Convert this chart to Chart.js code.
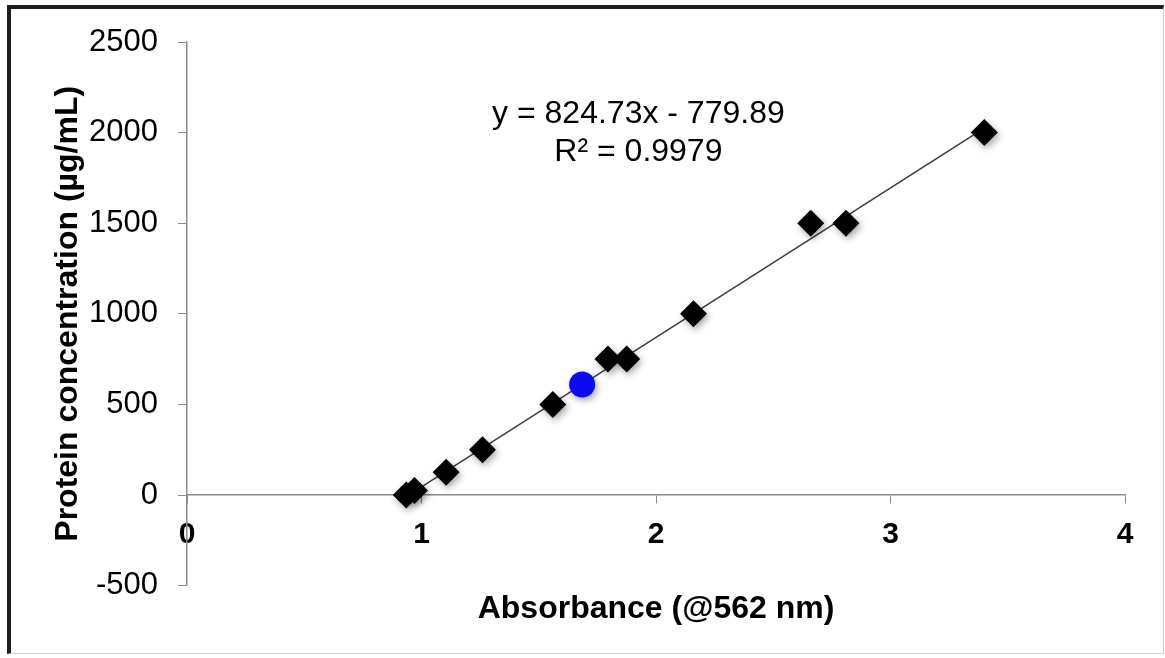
<!DOCTYPE html>
<html>
<head>
<meta charset="utf-8">
<script src="https://cdn.jsdelivr.net/npm/chart.js@4.4.0/dist/chart.umd.min.js"></script>
<style>
  html, body { margin: 0; background: #fff; }
  #frame {
    position: absolute; left: 7px; top: 5px; width: 1157px; height: 649px;
    box-sizing: border-box;
    border-top: 4px solid #1e1e1e; border-left: 4px solid #1e1e1e;
    border-right: 1px solid #c8c8c8; border-bottom: 1px solid #d0d0d0;
  }
  #wrap { position: relative; width: 1152px; height: 644px; }
</style>
</head>
<body>
<div id="frame"><div id="wrap"><canvas id="bca"></canvas></div></div>
<script>
// BCA standard curve
const stdAbs  = [0.935, 0.97, 1.105, 1.26, 1.56, 1.795, 1.875, 2.16, 2.66, 2.81, 3.40];
const stdConc = [0, 25, 125, 250, 500, 750, 750, 1000, 1500, 1500, 2000];
const sampleAbs  = [1.685];
const sampleConc = [610];

// linear fit as printed on the chart
const fitSlope = 824.73;
const fitIntercept = -779.89;
const eqLines = ['y = 824.73x - 779.89', 'R\u00b2 = 0.9979'];

const xTickValues = [0, 1, 2, 3, 4];
const yTickValues = [-500, 0, 500, 1000, 1500, 2000, 2500];

const FONT = "'Liberation Sans', Arial, sans-serif";

function pts(xs, ys) { return xs.map((x, i) => ({ x, y: ys[i] })); }

const fitXs = [Math.min(...stdAbs), Math.max(...stdAbs)];
const fitLine = fitXs.map(x => ({ x, y: fitSlope * x + fitIntercept }));

// soft shadow under the markers (Excel look)
const markerShadow = {
  id: 'markerShadow',
  beforeDatasetDraw(chart, args) {
    if (args.index > 1) return;
    const ctx = chart.ctx;
    ctx.save();
    ctx.shadowColor = 'rgba(0,0,0,0.35)';
    ctx.shadowBlur = 7;
    ctx.shadowOffsetX = 2;
    ctx.shadowOffsetY = 3;
  },
  afterDatasetDraw(chart, args) {
    if (args.index > 1) return;
    chart.ctx.restore();
  },
};

// trendline equation label
const eqLabel = {
  id: 'eqLabel',
  afterDraw(chart) {
    const { ctx, scales: { x, y } } = chart;
    ctx.save();
    ctx.font = '32px ' + FONT;
    ctx.fillStyle = '#000';
    ctx.textAlign = 'center';
    ctx.textBaseline = 'middle';
    const cx = x.getPixelForValue(1.925);
    ctx.fillText(eqLines[0], cx, y.getPixelForValue(2100));
    ctx.fillText(eqLines[1], cx, y.getPixelForValue(1892));
    ctx.restore();
  },
};

new Chart(document.getElementById('bca'), {
  type: 'scatter',
  data: {
    datasets: [
      {
        label: 'Standards',
        data: pts(stdAbs, stdConc),
        pointStyle: 'rectRot',
        pointRadius: 13.5,
        backgroundColor: '#000',
        borderColor: '#000',
        borderWidth: 0,
        order: 1,
      },
      {
        label: 'Sample',
        data: pts(sampleAbs, sampleConc),
        pointStyle: 'circle',
        pointRadius: 13,
        backgroundColor: '#0a0af5',
        borderColor: '#0a0af5',
        borderWidth: 0,
        order: 0,
      },
      {
        label: 'Linear fit',
        type: 'line',
        data: fitLine,
        showLine: true,
        pointRadius: 0,
        borderColor: '#3c3c3c',
        borderWidth: 1.5,
        fill: false,
        order: 2,
      },
    ],
  },
  options: {
    responsive: true,
    maintainAspectRatio: false,
    animation: false,
    layout: { padding: { left: 0, top: 33, right: 38, bottom: 25 } },
    plugins: {
      legend: { display: false },
      tooltip: { enabled: false },
      title: {
        display: true,
        position: 'bottom',
        fullSize: false,
        text: 'Absorbance (@562 nm)',
        color: '#000',
        font: { family: FONT, size: 32, weight: 'bold', lineHeight: 1.2 },
        padding: { top: 4, bottom: 0 },
      },
    },
    scales: {
      x: {
        type: 'linear',
        position: { y: 0 },
        min: 0, max: 4,
        afterBuildTicks: s => { s.ticks = xTickValues.map(v => ({ value: v })); },
        afterFit: s => { s.height = 0; },
        border: { display: true, color: '#8c8c8c', width: 1.5 },
        grid: { drawOnChartArea: false, drawTicks: true, tickLength: 8, color: '#8c8c8c' },
        ticks: {
          color: '#000',
          padding: 14,
          font: { family: FONT, size: 30, weight: 'bold' },
        },
      },
      y: {
        type: 'linear',
        position: 'left',
        min: -500, max: 2500,
        afterBuildTicks: s => { s.ticks = yTickValues.map(v => ({ value: v })); },
        // fixed axis width; drop label overhang so layout padding sets the plot top
        afterFit: s => { s.width = 176; s.paddingTop = 0; s.paddingBottom = 0; },
        border: { display: true, color: '#8c8c8c', width: 1.5 },
        grid: { drawOnChartArea: false, drawTicks: true, tickLength: 9, color: '#8c8c8c' },
        ticks: {
          color: '#000',
          padding: 20,
          font: { family: FONT, size: 31 },
          callback: v => String(v),
        },
        title: {
          display: true,
          text: 'Protein concentration (\u00b5g/mL)',
          color: '#000',
          font: { family: FONT, size: 32, weight: 'bold', lineHeight: 1.2 },
          padding: { top: 38, bottom: 0 },
        },
      },
    },
  },
  plugins: [markerShadow, eqLabel],
});
</script>
</body>
</html>
